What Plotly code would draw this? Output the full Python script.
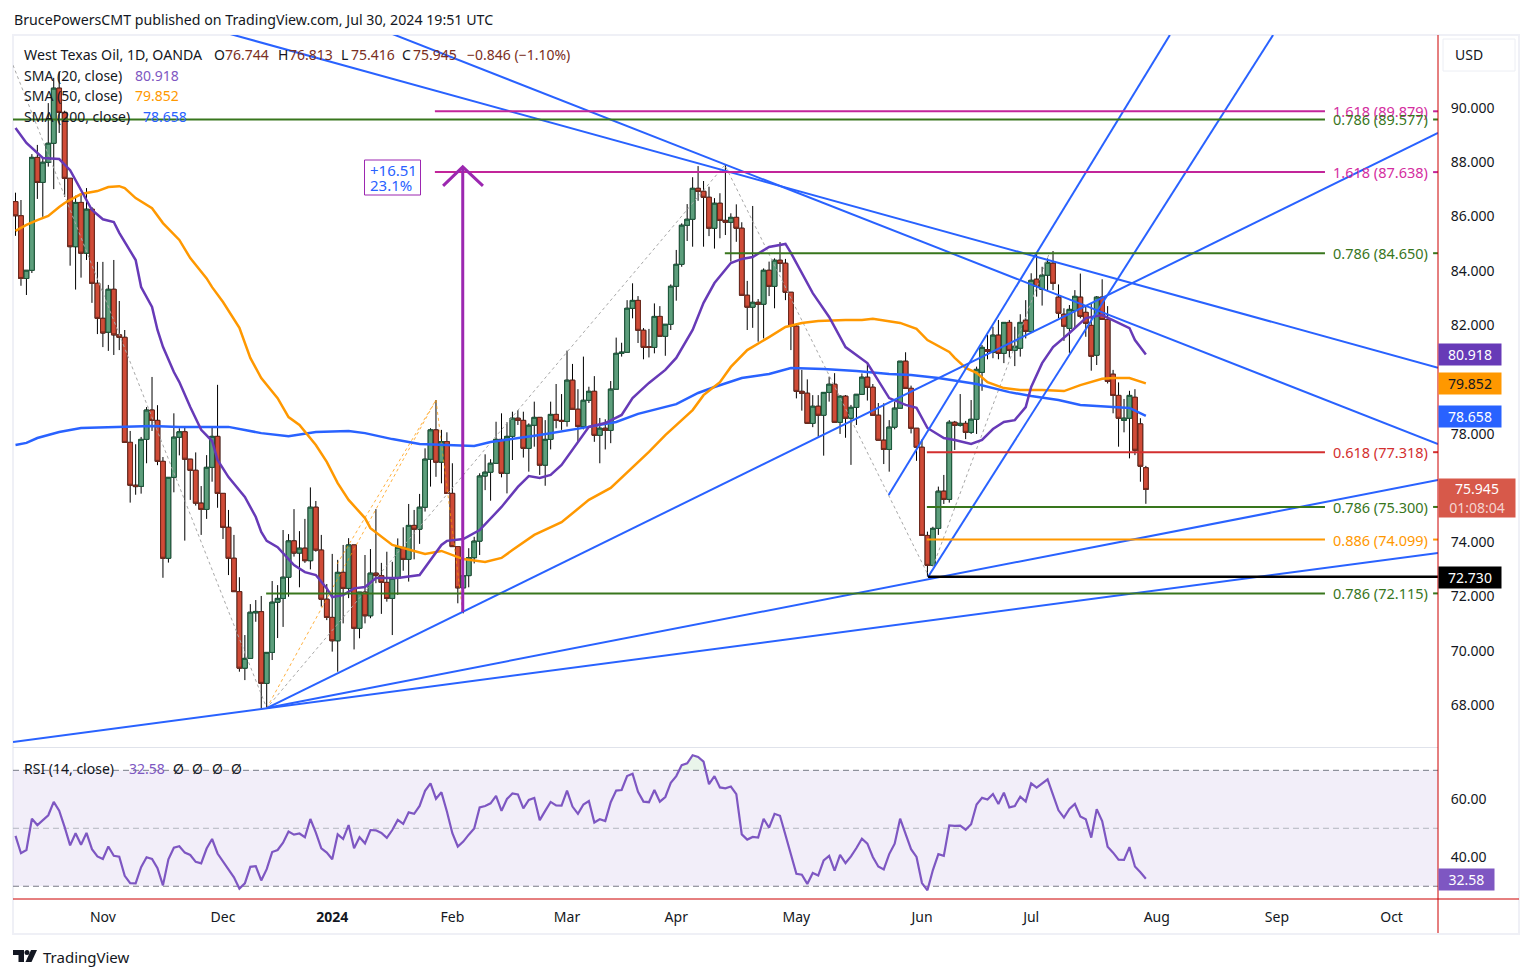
#!/usr/bin/env python

import plotly.graph_objects as go

W, H = 1533, 978
FONT = 'Noto Sans'
INK = '#131722'

# daily candles, oldest first
opens = [
    86.55, 86.03, 83.72, 84.02, 88.18, 87.26, 88.00, 88.70, 90.73, 89.84,
    87.41, 84.89, 86.52, 84.65, 86.27, 83.54, 82.25, 81.74, 83.32, 81.64,
    81.55, 77.68, 76.10, 76.06, 77.79, 78.87, 78.49, 76.98, 73.41, 76.39,
    77.87, 78.07, 77.06, 76.65, 75.44, 75.21, 76.76, 77.90, 75.80, 74.55,
    73.41, 72.18, 69.36, 69.72, 71.40, 71.44, 68.80, 69.94, 71.79, 71.93,
    72.71, 74.05, 73.60, 73.78, 73.32, 75.29, 73.71, 71.90, 71.23, 70.37,
    72.89, 72.30, 73.90, 70.83, 72.16, 71.29, 72.86, 72.77, 72.52, 71.93,
    72.67, 73.81, 73.37, 74.62, 74.48, 75.29, 77.06, 78.14, 76.95, 77.71,
    75.80, 73.84, 72.32, 72.77, 73.43, 74.04, 76.44, 76.58, 76.91, 77.79,
    76.54, 77.90, 78.57, 78.49, 77.46, 78.31, 78.60, 76.84, 77.79, 78.71,
    78.49, 78.45, 79.97, 78.90, 78.26, 79.23, 79.56, 77.94, 78.20, 78.12,
    79.64, 80.96, 81.00, 82.62, 82.91, 81.81, 81.20, 81.18, 82.32, 81.59,
    82.03, 83.43, 84.24, 85.68, 85.90, 87.04, 86.93, 86.71, 85.57, 86.49,
    85.86, 85.79, 85.97, 85.57, 83.10, 82.66, 82.84, 82.77, 84.02, 83.43,
    84.39, 84.28, 83.21, 81.96, 79.56, 79.49, 78.38, 79.01, 78.68, 79.52,
    79.82, 78.42, 79.38, 78.57, 78.97, 79.45, 80.08, 79.71, 78.68, 77.76,
    77.42, 78.24, 78.94, 80.67, 79.67, 78.20, 77.50, 74.25, 73.15, 74.51,
    75.88, 75.58, 78.42, 78.31, 78.38, 78.05, 78.53, 80.26, 81.10, 81.00,
    81.63, 80.96, 82.10, 81.07, 81.15, 82.18, 81.76, 83.69, 83.32, 83.84,
    84.28, 83.03, 82.40, 81.88, 82.54, 83.03, 82.47, 81.99, 80.89, 83.03,
    82.21, 80.19, 79.41, 78.49, 78.57, 79.34, 78.36, 76.744,
]
highs = [
    86.88, 86.61, 84.02, 88.30, 88.64, 88.19, 90.18, 91.11, 91.34, 89.90,
    87.42, 86.77, 86.83, 87.05, 86.35, 84.33, 84.33, 83.48, 84.40, 82.89,
    81.82, 78.10, 77.61, 77.88, 78.98, 80.09, 79.05, 77.14, 76.39, 78.75,
    78.20, 78.22, 77.07, 77.31, 76.07, 77.21, 78.25, 79.80, 75.81, 75.19,
    74.27, 72.71, 70.58, 71.72, 71.87, 72.02, 69.94, 72.57, 72.42, 74.45,
    74.30, 75.22, 74.41, 74.86, 76.02, 75.52, 74.27, 72.46, 73.57, 73.35,
    73.90, 74.15, 73.90, 72.16, 73.53, 73.75, 75.22, 73.24, 73.65, 73.28,
    74.14, 74.55, 75.41, 75.19, 75.78, 77.46, 78.20, 79.24, 78.14, 78.05,
    76.91, 73.84, 73.28, 73.78, 74.20, 76.54, 77.24, 77.06, 78.44, 78.75,
    78.42, 78.81, 78.87, 78.81, 78.38, 79.18, 78.61, 78.50, 79.18, 79.83,
    79.46, 81.06, 80.57, 79.64, 80.84, 79.73, 80.12, 78.58, 78.53, 79.94,
    81.54, 81.35, 82.92, 83.54, 83.07, 81.89, 81.86, 82.80, 82.70, 82.04,
    83.50, 84.77, 85.75, 86.46, 87.45, 87.86, 87.31, 87.10, 86.68, 86.86,
    87.90, 86.12, 86.45, 85.79, 83.63, 86.39, 82.96, 84.09, 84.34, 84.46,
    85.06, 84.44, 83.21, 82.07, 80.35, 80.00, 79.42, 79.42, 79.52, 80.10,
    80.23, 79.42, 79.42, 79.06, 79.46, 80.22, 80.63, 79.83, 79.13, 79.12,
    78.50, 79.18, 80.67, 81.00, 79.77, 78.20, 77.79, 74.39, 74.57, 76.05,
    76.48, 78.50, 78.47, 79.46, 78.47, 79.24, 80.47, 81.27, 81.64, 81.94,
    82.19, 82.10, 82.19, 81.94, 82.40, 82.92, 83.91, 84.65, 84.15, 84.46,
    84.73, 83.50, 82.62, 82.74, 83.29, 83.90, 82.68, 82.81, 83.07, 83.69,
    82.70, 80.35, 79.89, 79.28, 79.58, 79.64, 78.57, 76.813,
]
lows = [
    85.29, 83.45, 83.11, 83.92, 86.65, 85.99, 87.84, 87.01, 89.08, 86.73,
    84.19, 83.31, 83.75, 84.40, 82.82, 81.67, 81.19, 81.05, 80.90, 81.08,
    77.68, 75.46, 75.75, 75.79, 76.91, 78.10, 76.84, 72.69, 73.25, 75.84,
    77.20, 74.06, 75.56, 75.35, 74.27, 74.86, 76.23, 75.27, 74.12, 72.79,
    72.18, 69.23, 68.92, 69.72, 71.07, 67.89, 67.89, 69.66, 70.47, 70.88,
    71.99, 73.47, 72.34, 73.24, 73.00, 73.65, 71.63, 71.13, 69.97, 69.23,
    71.01, 71.94, 70.05, 70.46, 71.01, 71.20, 72.49, 71.36, 71.81, 70.58,
    72.06, 72.95, 72.55, 73.37, 73.94, 75.13, 76.05, 76.41, 76.17, 75.80,
    73.84, 71.75, 71.38, 72.34, 73.22, 73.53, 75.92, 75.53, 76.91, 76.39,
    75.80, 77.03, 78.32, 77.12, 76.60, 77.52, 76.48, 76.08, 77.42, 78.20,
    78.14, 78.26, 78.90, 77.70, 78.16, 79.13, 77.70, 76.91, 77.42, 77.65,
    79.64, 80.84, 81.00, 82.25, 81.34, 80.74, 80.81, 80.96, 81.59, 80.87,
    81.82, 82.90, 84.15, 85.10, 84.89, 86.58, 84.89, 85.28, 84.82, 85.20,
    85.32, 84.34, 85.07, 83.10, 81.82, 81.90, 81.39, 81.51, 83.07, 82.62,
    83.95, 82.92, 81.08, 79.30, 78.85, 78.38, 78.24, 77.89, 77.19, 79.18,
    78.42, 77.99, 77.85, 76.85, 78.32, 79.45, 79.22, 78.68, 77.76, 76.88,
    76.60, 78.16, 78.94, 79.67, 78.01, 77.00, 74.25, 72.73, 73.15, 74.27,
    75.41, 75.46, 77.40, 78.26, 77.80, 77.99, 77.99, 79.58, 80.74, 80.78,
    80.74, 80.60, 80.81, 80.49, 80.84, 81.51, 81.76, 83.05, 82.72, 83.29,
    83.29, 82.25, 81.42, 80.98, 81.89, 82.25, 81.57, 80.32, 80.53, 82.21,
    79.85, 78.75, 77.52, 78.05, 77.09, 77.21, 76.23, 75.416,
]
closes = [
    86.03, 83.72, 84.02, 88.18, 87.26, 88.00, 88.70, 90.73, 89.84, 87.41,
    84.89, 86.52, 84.65, 86.27, 83.54, 82.25, 81.71, 83.32, 81.64, 81.55,
    77.68, 76.10, 76.05, 77.79, 78.87, 78.49, 76.98, 73.41, 76.39, 77.87,
    78.07, 77.06, 76.65, 75.44, 75.21, 76.76, 77.90, 75.80, 74.55, 73.41,
    72.18, 69.36, 69.72, 71.42, 71.45, 68.80, 69.94, 71.79, 71.93, 72.71,
    74.05, 73.60, 73.78, 73.32, 75.29, 73.71, 71.90, 71.23, 70.37, 72.89,
    72.30, 73.90, 70.83, 72.16, 71.29, 72.86, 72.77, 72.52, 71.93, 72.67,
    73.81, 73.37, 74.62, 74.48, 75.29, 77.06, 78.14, 76.95, 77.71, 75.80,
    73.84, 72.32, 72.77, 73.43, 74.04, 76.44, 76.58, 76.91, 77.79, 76.54,
    77.90, 78.57, 78.49, 77.46, 78.31, 78.60, 76.84, 77.79, 78.71, 78.49,
    78.45, 79.97, 78.90, 78.27, 79.23, 79.56, 77.94, 78.20, 78.12, 79.64,
    80.96, 81.00, 82.62, 82.91, 81.81, 81.18, 81.18, 82.32, 81.59, 82.03,
    83.43, 84.24, 85.68, 85.90, 87.04, 86.93, 86.71, 85.57, 86.49, 85.86,
    85.79, 85.97, 85.57, 83.10, 82.66, 82.84, 82.77, 84.02, 83.43, 84.39,
    84.28, 83.21, 81.96, 79.56, 79.49, 78.38, 79.01, 78.68, 79.52, 79.82,
    78.42, 79.38, 78.57, 78.97, 79.45, 80.08, 79.71, 78.68, 77.76, 77.42,
    78.24, 78.94, 80.67, 79.67, 78.20, 77.50, 74.25, 73.15, 74.51, 75.88,
    75.58, 78.42, 78.31, 78.38, 78.05, 78.53, 80.37, 81.18, 81.03, 81.63,
    80.96, 82.10, 81.07, 81.22, 82.10, 81.77, 83.65, 83.43, 83.84, 84.31,
    83.54, 82.44, 81.96, 82.58, 83.06, 82.32, 82.07, 80.85, 83.03, 82.21,
    79.93, 79.41, 78.57, 78.57, 79.41, 77.39, 76.80, 75.945,
]

# moving averages, read at their bends (bar number, value)
sma20_bars = [
    0, 2, 5, 8, 10, 12, 14, 16, 18, 19, 22, 23, 25, 26, 27, 29, 30, 32, 34, 36,
    37, 39, 42, 44, 45, 46, 48, 51, 53, 55, 57, 58, 60, 62, 64, 66, 70, 74, 76,
    78, 79, 82, 85, 87, 89, 92, 94, 96, 98, 100, 103, 105, 108, 111, 113, 116,
    119, 121, 124, 126, 128, 131, 133, 135, 138, 141, 142, 144, 146, 149, 152,
    156, 158, 160, 163, 165, 167, 170, 172, 175, 177, 179, 181, 183, 185, 186,
    188, 190, 193, 196, 199, 201, 204, 205, 207,
]
sma20_vals = [
    89.26, 88.71, 88.16, 88.12, 87.71, 86.98, 86.24, 85.90, 85.80, 85.40, 84.40,
    83.40, 82.67, 81.82, 81.20, 80.27, 79.90, 78.98, 78.14, 77.73, 77.03, 76.40,
    75.67, 74.93, 74.38, 74.05, 73.82, 73.16, 72.90, 72.79, 72.30, 71.98, 72.05,
    72.30, 72.35, 72.68, 72.68, 72.79, 73.35, 73.90, 74.05, 74.12, 74.45, 74.89,
    75.30, 76.04, 76.44, 76.37, 76.48, 76.85, 77.69, 78.25, 78.39, 78.69, 79.31,
    79.87, 80.35, 80.79, 81.82, 82.82, 83.55, 84.29, 84.44, 84.51, 84.88, 84.99,
    84.66, 83.92, 83.18, 82.30, 81.19, 80.60, 79.98, 79.31, 79.06, 78.95, 78.21,
    77.84, 77.77, 77.62, 77.77, 78.17, 78.43, 78.50, 78.98, 79.72, 80.60, 81.19,
    81.71, 82.26, 82.37, 82.19, 81.89, 81.45, 80.918,
]
sma50_bars = [
    0, 2, 4, 6, 8, 9, 12, 15, 17, 19, 20, 22, 25, 27, 30, 32, 35, 36, 38, 41, 43,
    45, 48, 50, 52, 55, 57, 59, 61, 64, 65, 69, 73, 75, 78, 80, 82, 86, 89, 91,
    95, 100, 105, 109, 111, 114, 116, 119, 121, 124, 126, 129, 131, 134, 138,
    141, 144, 147, 152, 155, 157, 162, 165, 167, 171, 172, 174, 176, 178, 181,
    184, 188, 192, 195, 199, 201, 204, 207,
]
sma50_vals = [
    85.47, 85.69, 85.87, 86.02, 86.35, 86.50, 86.83, 86.94, 87.09, 87.12, 87.05,
    86.68, 86.31, 85.76, 85.14, 84.47, 83.72, 83.40, 82.85, 81.90, 80.79, 80.05,
    79.31, 78.61, 78.32, 77.58, 76.96, 76.18, 75.56, 74.89, 74.52, 73.90, 73.68,
    73.57, 73.68, 73.53, 73.38, 73.27, 73.42, 73.71, 74.27, 74.74, 75.56, 76.00,
    76.37, 76.96, 77.33, 77.95, 78.32, 78.87, 79.42, 79.90, 80.46, 81.08, 81.56,
    81.93, 82.08, 82.15, 82.19, 82.19, 82.23, 82.08, 81.86, 81.45, 81.01, 80.79,
    80.42, 80.24, 79.90, 79.68, 79.61, 79.61, 79.57, 79.79, 80.02, 80.05, 80.05,
    79.852,
]
sma200_bars = [
    0, 2, 4, 8, 12, 19, 25, 30, 39, 45, 50, 55, 61, 64, 69, 74, 84, 87, 96, 105,
    110, 114, 121, 125, 128, 133, 138, 142, 148, 154, 160, 164, 169, 176, 182,
    186, 191, 195, 199, 204, 207,
]
sma200_vals = [
    77.58, 77.66, 77.84, 78.06, 78.21, 78.25, 78.28, 78.25, 78.25, 78.02, 77.91,
    78.06, 78.10, 78.02, 77.80, 77.62, 77.55, 77.69, 77.95, 78.25, 78.43, 78.73,
    79.09, 79.50, 79.72, 80.05, 80.20, 80.42, 80.38, 80.31, 80.20, 80.16, 80.05,
    79.83, 79.53, 79.39, 79.24, 79.06, 79.02, 78.95, 78.658,
]

# RSI(14), one value per candle
rsi_vals = [
    47.4, 41.4, 42.5, 53.3, 51.1, 52.9, 54.5, 59.1, 56.1, 50.4,
    44.1, 48.3, 44.3, 48.4, 42.8, 40.3, 39.4, 43.7, 40.5, 40.2,
    33.6, 31.1, 31.0, 36.6, 40.0, 39.4, 36.2, 30.3, 39.3, 43.3,
    43.8, 41.6, 40.8, 38.4, 37.9, 43.0, 46.3, 41.3, 38.5, 35.9,
    33.1, 29.2, 31.0, 36.7, 36.9, 32.0, 35.9, 41.8, 42.5, 45.0,
    48.9, 47.8, 48.2, 46.9, 53.2, 48.5, 43.1, 41.6, 39.3, 47.9,
    46.3, 51.1, 43.1, 46.9, 44.8, 49.4, 49.3, 48.4, 46.7, 49.4,
    52.9, 51.5, 55.5, 55.0, 57.7, 62.9, 65.5, 60.2, 62.4, 55.8,
    48.3, 43.7, 45.4, 47.8, 49.9, 57.2, 57.7, 58.6, 61.2, 56.0,
    60.1, 62.0, 61.7, 56.9, 59.8, 60.5, 52.8, 56.0, 59.1, 57.9,
    57.8, 63.0, 57.5, 55.0, 58.2, 59.4, 52.0, 53.1, 52.5, 59.0,
    63.0, 63.2, 68.0, 68.8, 62.6, 59.2, 59.0, 63.2, 59.2, 60.8,
    65.7, 68.0, 71.8, 72.4, 75.2, 74.6, 73.0, 65.2, 68.0, 64.1,
    63.8, 64.4, 61.8, 47.9, 46.1, 47.0, 46.8, 53.3, 50.2, 55.0,
    54.3, 47.7, 41.4, 34.3, 34.0, 30.8, 34.6, 33.7, 38.9, 40.5,
    35.4, 40.8, 38.0, 40.3, 43.2, 46.4, 44.7, 40.1, 36.8, 35.8,
    41.1, 44.7, 53.3, 47.9, 42.8, 40.1, 31.1, 28.6, 35.6, 41.1,
    40.5, 51.0, 50.8, 50.9, 49.5, 51.4, 58.2, 60.5, 59.9, 61.8,
    58.4, 62.3, 57.2, 57.7, 60.9, 59.2, 65.5, 64.0, 65.4, 66.9,
    61.5, 56.2, 53.7, 56.7, 58.4, 54.1, 53.1, 46.8, 56.6, 52.5,
    43.6, 41.6, 39.2, 39.1, 43.5, 36.8, 34.8, 32.58,
]

# month labels on the time scale
month_bars = [16, 38, 58, 80, 101, 121, 143, 166, 186, 209, 231, 252]
month_names = ['Nov', 'Dec', '<b>2024</b>', 'Feb', 'Mar', 'Apr', 'May', 'Jun',
               'Jul', 'Aug', 'Sep', 'Oct']

# 76 and 80 sit behind the price tags in the original, so they are left out
price_ticks = [68, 70, 72, 74, 78, 82, 84, 86, 88, 90]
rsi_ticks = [40, 60]

# fib levels: first bar, price, label, colour
fib_start = [76.8, -0.46, 76.8, 129.9, 166.9, 166.9, 166.9, 45.9]
fib_price = [89.879, 89.577, 87.638, 84.650, 77.318, 75.300, 74.099, 72.115]
fib_label = ['1.618 (89.879)', '0.786 (89.577)', '1.618 (87.638)', '0.786 (84.650)',
             '0.618 (77.318)', '0.786 (75.300)', '0.886 (74.099)', '0.786 (72.115)']
fib_color = ['#c2259a', '#38761d', '#c2259a', '#38761d',
             '#d32f2f', '#38761d', '#ff9800', '#38761d']
fib_text = ['#d42ea0', '#38761d', '#d42ea0', '#38761d',
            '#d32f2f', '#38761d', '#ff9800', '#38761d']

# drawn trend lines: pairs of (bar, price)
trend_bars = [(-0.46, 260.5), (46, 260.5), (46, 260.5), (38.7, 260.5),
              (68.6, 260.5), (159.9, 211.4), (167.1, 230.3)]
trend_prices = [(66.64, 73.60), (67.89, 76.29), (67.89, 89.08), (92.76, 80.43),
                (92.76, 77.62), (75.74, 92.69), (72.72, 92.69)]

zigzag_bars = [-0.46, 46, 129.9, 167.3, 189.4]
zigzag_prices = [91.58, 67.89, 87.90, 72.72, 84.69]
orange_bars = [46, 77, 58.9, None, 77, 81.9]
orange_prices = [67.89, 79.24, 73.20, None, 79.24, 71.43]

arrow_bars = [81.9, 81.9, None, 78.3, 81.9, 85.6]
arrow_prices = [71.43, 87.83, None, 87.13, 87.83, 87.13]

bars = list(range(len(closes)))
x_left, x_right = -0.46, 260.5
level_end, stub_start = 239.8, 259.6


def px(x):
    return x / W


def py(y):
    return 1 - y / H


def label(x, y, text, size=14, color=INK, anchor='left', **kw):
    return dict(xref='paper', yref='paper', x=px(x), y=py(y), text=text, showarrow=False,
                xanchor=anchor, yanchor='middle', borderpad=0,
                font=dict(family=FONT, size=size, color=color), **kw)


def tag(top, bottom, right, text, bg, color='#ffffff'):
    return dict(xref='paper', yref='paper', x=px(1438), y=py((top + bottom) / 2), text=text,
                showarrow=False, xanchor='left', yanchor='middle', bgcolor=bg, borderpad=0,
                width=right - 1438, height=bottom - top, align='center',
                font=dict(family=FONT, size=14, color=color))


fig = go.Figure()

fig.add_trace(go.Scatter(x=zigzag_bars, y=zigzag_prices, mode='lines',
                         line=dict(color='#a8a8a8', width=1, dash='dot')))
fig.add_trace(go.Scatter(x=orange_bars, y=orange_prices, mode='lines', opacity=0.75,
                         line=dict(color='#ff9800', width=1, dash='dot')))

# black wicks first, then the bodies with their own border colours on top
fig.add_trace(go.Candlestick(x=bars, open=opens, high=highs, low=lows, close=closes,
                             whiskerwidth=0,
                             increasing=dict(line=dict(color='#000000', width=1), fillcolor='#5d9e7c'),
                             decreasing=dict(line=dict(color='#000000', width=1), fillcolor='#d04b37')))
fig.add_trace(go.Candlestick(x=bars, open=opens, close=closes,
                             high=[max(o, c) for o, c in zip(opens, closes)],
                             low=[min(o, c) for o, c in zip(opens, closes)],
                             whiskerwidth=0,
                             increasing=dict(line=dict(color='#1d5a3c', width=1), fillcolor='#5d9e7c'),
                             decreasing=dict(line=dict(color='#6e2a1e', width=1), fillcolor='#d04b37')))

fig.add_trace(go.Scatter(x=sma200_bars, y=sma200_vals, mode='lines', line=dict(color='#2962ff', width=2.5)))
fig.add_trace(go.Scatter(x=sma50_bars, y=sma50_vals, mode='lines', line=dict(color='#ff9800', width=2.5)))
fig.add_trace(go.Scatter(x=sma20_bars, y=sma20_vals, mode='lines', line=dict(color='#673ab7', width=2.5)))

for tb, tp in zip(trend_bars, trend_prices):
    fig.add_trace(go.Scatter(x=list(tb), y=list(tp), mode='lines', line=dict(color='#2962ff', width=2)))

for start, price, col in zip(fib_start, fib_price, fib_color):
    fig.add_trace(go.Scatter(x=[start, level_end, None, stub_start, x_right],
                             y=[price, price, None, price, price], mode='lines',
                             line=dict(color=col, width=2)))
fig.add_trace(go.Scatter(x=[167.1, x_right], y=[72.73, 72.73], mode='lines',
                         line=dict(color='#000000', width=2.5)))

fig.add_trace(go.Scatter(x=arrow_bars, y=arrow_prices, mode='lines',
                         line=dict(color='#9c27b0', width=3)))

# RSI pane: tints where the line leaves the band
for first, last, level, tint in [(122, 126, 70, 'rgba(76,175,80,0.12)'),
                                 (41, 41, 30, 'rgba(255,82,82,0.12)'),
                                 (167, 167, 30, 'rgba(255,82,82,0.12)')]:
    run = list(range(first, last + 1))
    fig.add_trace(go.Scatter(x=[first - 0.5] + run + [last + 0.5],
                             y=[level] + [rsi_vals[i] for i in run] + [level],
                             mode='lines', fill='toself', fillcolor=tint, line_width=0,
                             xaxis='x2', yaxis='y2'))
for level, col in [(70, '#787b86'), (50, '#b2b5be'), (30, '#787b86')]:
    fig.add_trace(go.Scatter(x=[x_left, x_right], y=[level, level], mode='lines', xaxis='x2', yaxis='y2',
                             line=dict(color=col, width=1, dash='6px,4px')))
fig.add_trace(go.Scatter(x=bars, y=rsi_vals, mode='lines', xaxis='x2', yaxis='y2',
                         line=dict(color='#7e57c2', width=2.2)))

shapes = [
    # RSI band
    dict(type='rect', xref='x2', yref='y2', x0=x_left, x1=x_right, y0=30, y1=70, layer='below',
         line_width=0, fillcolor='rgba(126,87,194,0.1)'),
    # frame
    dict(type='rect', xref='paper', yref='paper', x0=px(13), x1=px(1519), y0=py(934), y1=py(35),
         line=dict(color='#eff0f6', width=2), layer='below'),
    dict(type='line', xref='paper', yref='paper', x0=px(13), x1=px(1438), y0=py(747.5), y1=py(747.5),
         line=dict(color='#e0e3eb', width=1)),
    dict(type='line', xref='paper', yref='paper', x0=px(13), x1=px(1519), y0=py(899), y1=py(899),
         line=dict(color='#cc0000', width=1)),
    dict(type='line', xref='paper', yref='paper', x0=px(1438), x1=px(1438), y0=py(933), y1=py(35),
         line=dict(color='#cc0000', width=1)),
    # USD box
    dict(type='rect', xref='paper', yref='paper', x0=px(1443), x1=px(1515), y0=py(71), y1=py(39),
         line=dict(color='#eceef4', width=1)),
    # box round the measured move
    dict(type='rect', xref='paper', yref='paper', x0=px(364.5), x1=px(420.5), y0=py(195), y1=py(160),
         line=dict(color='#9c27b0', width=1), fillcolor='#ffffff'),
    # TradingView mark
    dict(type='path', xref='paper', yref='paper', fillcolor='#131722', line_width=0,
         path='M {} {} L {} {} L {} {} L {} {} L {} {} L {} {} Z'.format(
             px(13), py(950), px(24), py(950), px(24), py(962), px(18.5), py(962), px(18.5), py(955), px(13), py(955))),
    dict(type='circle', xref='paper', yref='paper', fillcolor='#131722', line_width=0,
         x0=px(24.5), x1=px(29.5), y0=py(955), y1=py(950)),
    dict(type='path', xref='paper', yref='paper', fillcolor='#131722', line_width=0,
         path='M {} {} L {} {} L {} {} L {} {} Z'.format(
             px(31), py(950), px(37), py(950), px(31.5), py(962), px(25.5), py(962))),
]

annotations = [
    label(13, 19, 'BrucePowersCMT published on TradingView.com, Jul 30, 2024 19:51 UTC', size=14.2),
    label(42, 957, 'TradingView', size=15),
    label(23, 54, 'West Texas Oil, 1D, OANDA', size=14.2),
    label(23, 75, 'SMA (20, close)'),
    label(134, 75, '80.918', color='#7e57c2'),
    label(23, 96, 'SMA (50, close)'),
    label(134, 96, '79.852', color='#ff9800'),
    label(23, 117, 'SMA (200, close)'),
    label(142, 117, '78.658', color='#2962ff'),
    label(23, 768, 'RSI (14, close)'),
    label(128, 768, '32.58', color='#7e57c2'),
    label(1454, 54, 'USD'),
    label(369, 170, '+16.51', size=15, color='#2962ff'),
    label(369, 185, '23.1%', size=15, color='#2962ff'),
    tag(344, 365, 1500, '80.918', '#673ab7'),
    tag(373, 394, 1500, '79.852', '#ff9800', '#131722'),
    tag(406, 427, 1500, '78.658', '#2962ff'),
    tag(479, 517, 1514, '75.945<br><span style="color:#f5d5d0">01:08:04</span>', '#d7594a'),
    tag(567, 588, 1500, '72.730', '#000000'),
    tag(869, 890, 1493, '32.58', '#7e57c2'),
]
for x, text in zip([213, 277, 340, 401], ['O', 'H', 'L', 'C']):
    annotations.append(label(x, 54, text))
for x, text in zip([224, 288, 350, 412, 466], ['76.744', '76.813', '75.416', '75.945', '−0.846 (−1.10%)']):
    annotations.append(label(x, 54, text, color='#7a2e22'))
for x in [178, 197, 217, 236]:
    annotations.append(label(x, 768, 'Ø', anchor='center'))
for price, text, col in zip(fib_price, fib_label, fib_text):
    annotations.append(dict(x=258.8, y=price, xref='x', yref='y', text=text, showarrow=False, xanchor='right',
                            yanchor='middle', borderpad=0, font=dict(family=FONT, size=14.5, color=col)))

fig.update_layout(
    width=W, height=H, margin=dict(l=0, r=0, t=0, b=0), showlegend=False,
    paper_bgcolor='#ffffff', plot_bgcolor='#ffffff', boxgap=0.1, boxgroupgap=0.05, hovermode=False,
    font=dict(family=FONT, size=14, color=INK),
    shapes=shapes, annotations=annotations,
    xaxis=dict(domain=[px(13), px(1438)], range=[x_left, x_right], anchor='y', showgrid=False,
               zeroline=False, showticklabels=False, rangeslider=dict(visible=False)),
    yaxis=dict(domain=[py(747), py(35)], range=[66.455, 92.69], anchor='x', side='right', showgrid=False,
               zeroline=False, tickvals=price_ticks, tickformat='.3f', ticks='outside', ticklen=9,
               tickcolor='rgba(0,0,0,0)', tickfont=dict(family=FONT, size=14, color=INK)),
    xaxis2=dict(domain=[px(13), px(1438)], range=[x_left, x_right], anchor='y2', showgrid=False,
                zeroline=False, tickvals=month_bars, ticktext=month_names, ticks='outside', ticklen=5,
                tickcolor='rgba(0,0,0,0)', tickangle=0, tickfont=dict(family=FONT, size=14, color=INK)),
    yaxis2=dict(domain=[py(899), py(748)], range=[25.6, 77.7], anchor='x2', side='right', showgrid=False,
                zeroline=False, tickvals=rsi_ticks, tickformat='.2f', ticks='outside', ticklen=9,
                tickcolor='rgba(0,0,0,0)', tickfont=dict(family=FONT, size=14, color=INK)),
)

for name, seq in [('opens', opens), ('highs', highs), ('lows', lows), ('closes', closes), ('rsi', rsi_vals)]:
    assert len(seq) == 208, (name, len(seq))

fig.write_html("out.html", config=dict(displayModeBar=False),
               post_script="document.body.style.margin='0';document.body.style.overflow='hidden';")
